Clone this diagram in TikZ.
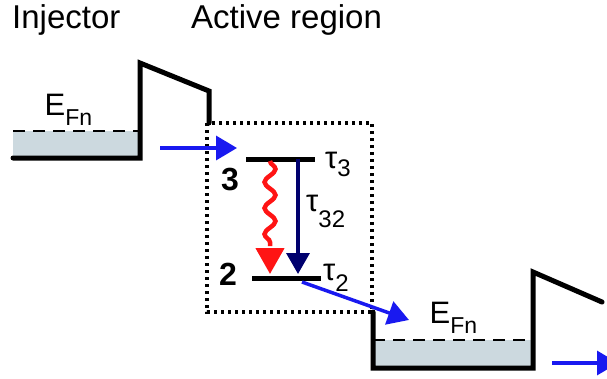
\documentclass[tikz,border=0pt]{standalone}
\usepackage{fontspec}
\setmainfont{Liberation Sans}
\usetikzlibrary{arrows.meta,decorations.pathmorphing}
\definecolor{wellfill}{RGB}{204,217,223}
\definecolor{arrblue}{RGB}{25,25,240}
\definecolor{navyarr}{RGB}{0,0,110}
\definecolor{wavered}{RGB}{255,20,20}
\newcommand{\efn}{{\fontsize{31}{31}\selectfont E\raisebox{-10pt}{\fontsize{23}{23}\selectfont Fn}}}
\newcommand{\tauwith}[2]{{\fontsize{31}{31}\selectfont τ\raisebox{-#2}{\fontsize{24}{24}\selectfont #1}}}
\tikzset{
  band/.style={line width=5pt, line join=miter, line cap=round},
  fermi/.style={line width=2.2pt, dash pattern=on 12pt off 8pt},
  boxdot/.style={line width=3.5pt, dash pattern=on 3pt off 4pt},
  levelline/.style={line width=5pt},
  bluearr/.style={arrblue, line width=3.5pt, -{Triangle[length=21pt,width=24pt]}},
  navyarrow/.style={navyarr, line width=3.5pt, -{Triangle[length=21pt,width=23pt]}},
  lbl/.style={inner sep=0pt, anchor=base west},
  titlelbl/.style={lbl, font=\fontsize{33}{33}\selectfont},
  numlbl/.style={lbl, font=\fontsize{32}{32}\selectfont\bfseries},
}
\begin{document}
\begin{tikzpicture}[x=1pt,y=-1pt]
\useasboundingbox (0,0) rectangle (607,378);
% titles
\node[titlelbl] (tinj) at (12,28) {Injector};
\node[titlelbl] (tact) at (191,28) {Active region};
% left injector well
\fill[wellfill] (13,131) rectangle (140,158);
\draw[fermi] (13,131) -- (140,131);
\draw[band] (13,158) -- (140,158) -- (140,63) -- (209,91) -- (209,123);
\node[lbl] (efnL) at (44.5,115) {\efn};
% right injector well
\fill[wellfill] (373,340) rectangle (533,368);
\draw[fermi] (373,340) -- (533,340);
\draw[band] (373,312) -- (373,368) -- (533,368) -- (533,272) -- (602,302);
\node[lbl] (efnR) at (429.5,323) {\efn};
% active region box
\draw[boxdot] (207,123) rectangle (372,312);
% levels
\coordinate (l3a) at (246,159);
\coordinate (l3b) at (315,159);
\coordinate (l2a) at (252,278);
\coordinate (l2b) at (321,278);
\draw[levelline] (l3a) -- (l3b);
\draw[levelline] (l2a) -- (l2b);
\node[numlbl] (n3) at (221,190) {3};
\node[numlbl] (n2) at (219,285) {2};
\node[lbl] (t3) at (325,168) {\tauwith{3}{8pt}};
\node[lbl] (t32) at (306,211) {\tauwith{32}{16pt}};
\node[lbl] (t2) at (323,280) {\tauwith{2}{11pt}};
% transitions
\coordinate (rs) at (270,161);
\coordinate (rm) at (270,246);
\coordinate (re) at (270,274);
\draw[wavered, line width=4.5pt, decorate, decoration={snake, amplitude=5.5pt, segment length=26pt, post length=3pt}] (rs) -- (rm);
\draw[wavered, line width=4.5pt, -{Triangle[length=26pt,width=28pt]}] ([yshift=-3pt]rm) -- (re);
\coordinate (ns) at (298,159);
\coordinate (ne) at (298,274);
\draw[navyarrow] (ns) -- (ne);
% electron flow arrows
\coordinate (b1s) at (160,148);
\coordinate (b1e) at (237,148);
\coordinate (b2s) at (302,282);
\coordinate (b2e) at (409,320);
\coordinate (b3s) at (552,363);
\coordinate (b3e) at (618,363);
\draw[bluearr] (b1s) -- (b1e);
\draw[bluearr] (b2s) -- (b2e);
\draw[bluearr] (b3s) -- (b3e);
\end{tikzpicture}
\end{document}
